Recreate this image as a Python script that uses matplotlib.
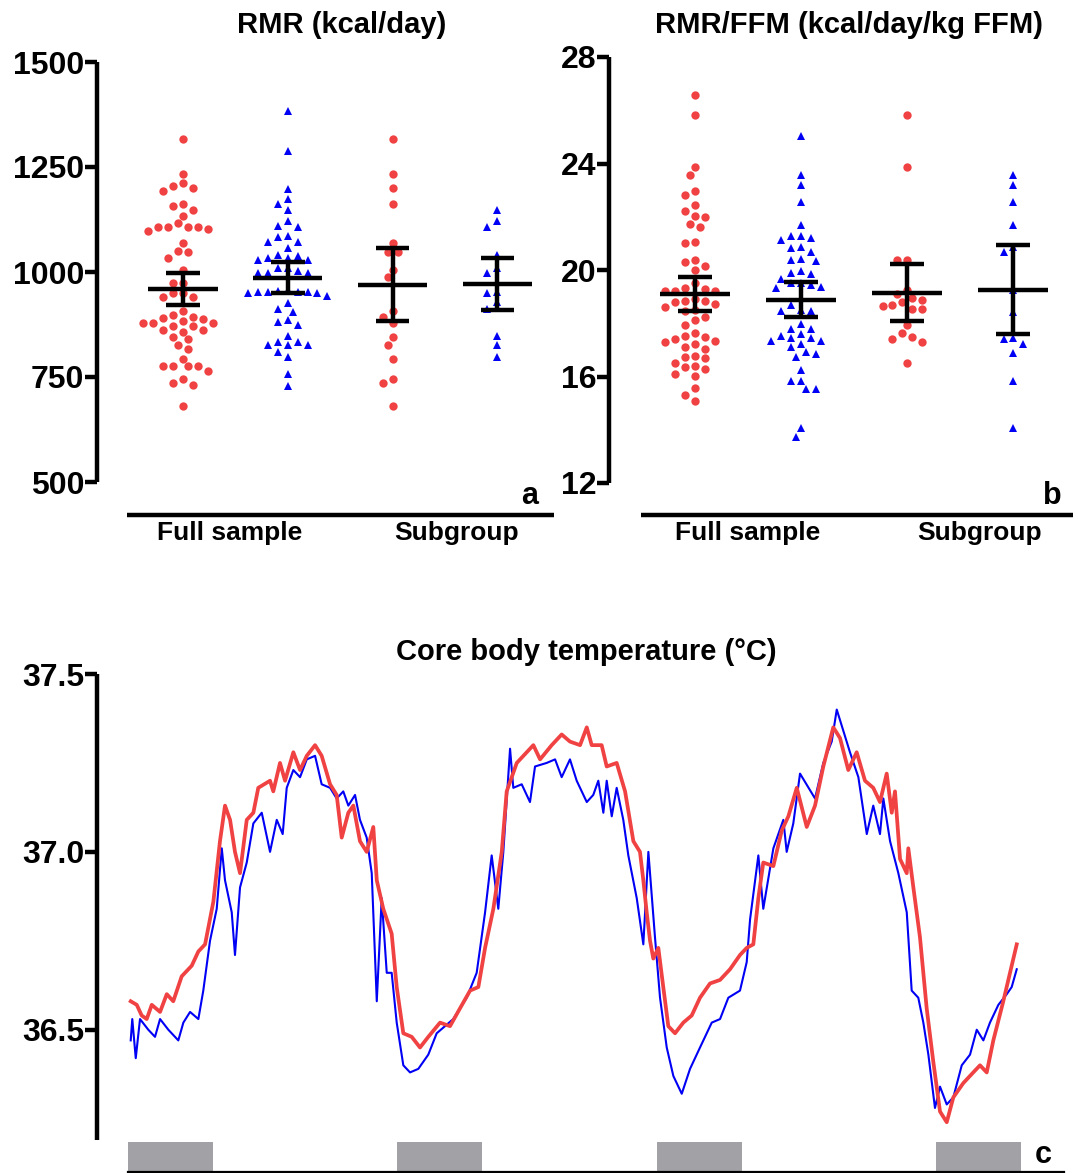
import numpy as np
import matplotlib
matplotlib.use("Agg")
import matplotlib.pyplot as plt
from matplotlib.lines import Line2D

plt.rcParams['font.family'] = ['Liberation Sans', 'DejaVu Sans']
plt.rcParams['font.weight'] = 'bold'

# ---------------- data ----------------
group_labels = ["Full sample", "Subgroup"]
panel_titles = ["RMR (kcal/day)", "RMR/FFM (kcal/day/kg FFM)", "Core body temperature (\u00b0C)"]

rmr_full_red = [1317, 1234, 1205, 1200, 1212, 1192, 1163, 1158, 1148, 1134, 1108, 1106, 1102, 1097,
                1106, 1108, 1116, 1068, 1048, 1050, 1033, 1005, 973, 973, 951, 951, 941, 941, 906,
                897, 893, 889, 879, 879, 871, 871, 879, 883, 890, 862, 858, 862, 840, 846, 817, 825,
                794, 777, 775, 764, 775, 775, 735, 730, 745, 680]
rmr_full_blue = [1383, 1288, 1198, 1174, 1163, 1147, 1121, 1108, 1110, 1086, 1084, 1071, 1071, 1056,
                 1040, 1034, 1029, 1033, 1029, 1039, 1009, 998, 997, 998, 1002, 1010, 954, 952, 952,
                 949, 949, 952, 952, 957, 926, 944, 905, 912, 882, 886, 873, 848, 833, 825, 825, 825,
                 833, 798, 810, 756, 729]
rmr_sub_red = [1317, 1234, 1200, 1162, 1068, 1047, 1047, 1005, 987, 906, 894, 878, 846, 825, 794,
               745, 735, 680]
rmr_sub_blue = [1147, 1108, 1121, 1040, 998, 1010, 949, 952, 913, 928, 848, 825, 798]
rmr_mean = [960, 986, 970, 971]
rmr_lo = [921, 950, 884, 909]
rmr_hi = [998, 1023, 1056, 1033]
rmr_ticks = [500, 750, 1000, 1250, 1500]

ffm_full_red = [26.56, 25.84, 23.86, 23.55, 22.95, 22.80, 22.45, 22.22, 21.98, 22.02, 21.63, 21.73,
                21.06, 21.03, 20.37, 20.29, 20.15, 19.99, 19.52, 19.31, 19.23, 19.23, 19.20, 19.28,
                18.85, 18.78, 18.60, 18.72, 18.45, 18.51, 18.83, 18.90, 18.23, 18.13, 17.94, 17.53,
                17.42, 17.62, 17.30, 17.22, 17.32, 17.47, 17.10, 17.05, 16.73, 16.78, 16.68, 16.49,
                16.39, 16.34, 16.29, 16.11, 16.01, 15.57, 15.31, 15.09]
ffm_full_blue = [25.04, 23.55, 23.21, 22.54, 21.69, 21.26, 21.14, 21.22, 21.29, 20.81, 20.88, 20.67,
                 20.39, 20.34, 20.42, 19.96, 19.90, 19.65, 19.84, 19.52, 19.43, 19.33, 19.37, 19.50,
                 18.94, 18.70, 18.50, 18.45, 18.45, 17.98, 17.80, 17.80, 17.59, 17.44, 17.34, 17.22,
                 17.34, 17.44, 17.53, 17.10, 16.91, 16.84, 16.74, 16.24, 15.83, 15.82, 15.54, 15.54,
                 14.05, 13.72]
ffm_sub_red = [25.84, 23.86, 20.39, 20.37, 19.24, 19.08, 18.94, 18.86, 18.67, 18.52, 18.52, 18.65,
               18.78, 17.94, 17.62, 17.42, 17.30, 17.47, 16.49]
ffm_sub_blue = [23.55, 23.21, 22.54, 21.69, 20.69, 20.85, 19.25, 18.42, 17.46, 17.41, 17.22, 16.87,
                15.83, 14.05]
ffm_mean = [19.09, 18.88, 19.14, 19.25]
ffm_lo = [18.46, 18.22, 18.07, 17.59]
ffm_hi = [19.72, 19.55, 20.23, 20.95]
ffm_ticks = [12, 16, 20, 24, 28]

# core body temperature (hours, degC)
temp_red_t = [0.24, 0.78, 1.22, 1.67, 2.12, 2.86, 3.46, 4.04, 4.79, 5.69, 6.28, 6.88, 7.62, 8.21,
              8.66, 9.11, 9.55, 10.0, 10.60, 11.19, 11.63, 12.68, 12.97, 13.57, 14.02, 14.76, 15.36,
              15.96, 16.70, 17.29, 18.04, 18.63, 19.08, 19.67, 20.12, 20.71, 21.31, 21.90, 22.21,
              22.79, 23.54, 23.99, 24.58, 25.33, 26.07, 26.81, 27.86, 28.75, 29.64, 30.54, 31.28,
              31.88, 32.62, 33.37, 33.81, 34.71, 36.19, 36.79, 37.83, 38.72, 39.46, 40.36, 40.96,
              41.40, 42.29, 42.74, 43.63, 44.38, 45.12, 45.71, 46.01, 46.31, 46.61, 46.90, 47.35,
              47.79, 48.24, 48.84, 49.58, 50.33, 51.07, 51.96, 52.86, 53.75, 54.64, 55.24, 55.83,
              56.28, 56.72, 57.62, 58.37, 58.96, 59.71, 60.60, 61.34, 62.08, 62.97, 63.57, 64.31,
              65.06, 65.80, 66.54, 67.14, 67.74, 68.19, 68.48, 68.93, 69.53, 69.67, 70.12, 70.71,
              71.31, 71.90, 72.50, 73.10, 73.69, 74.58, 75.47, 76.07, 76.67, 77.26, 78.15, 78.90,
              79.35]
temp_red_v = [36.58, 36.57, 36.54, 36.53, 36.57, 36.55, 36.60, 36.58, 36.65, 36.68, 36.72, 36.74,
              36.86, 37.03, 37.13, 37.09, 37.00, 36.94, 37.09, 37.11, 37.18, 37.20, 37.17, 37.25,
              37.20, 37.28, 37.23, 37.27, 37.30, 37.27, 37.19, 37.16, 37.04, 37.11, 37.13, 37.03,
              37.00, 37.07, 36.92, 36.84, 36.77, 36.62, 36.49, 36.48, 36.45, 36.48, 36.52, 36.51,
              36.56, 36.61, 36.62, 36.73, 36.84, 37.00, 37.17, 37.25, 37.30, 37.26, 37.30, 37.33,
              37.31, 37.30, 37.35, 37.30, 37.30, 37.24, 37.25, 37.17, 37.03, 37.00, 36.92, 36.83,
              36.75, 36.70, 36.73, 36.62, 36.51, 36.49, 36.52, 36.54, 36.59, 36.63, 36.64, 36.67,
              36.71, 36.73, 36.74, 36.87, 36.97, 36.96, 37.06, 37.10, 37.18, 37.07, 37.13, 37.24,
              37.35, 37.32, 37.23, 37.28, 37.20, 37.18, 37.14, 37.22, 37.11, 37.17, 36.98, 36.94,
              37.01, 36.90, 36.76, 36.56, 36.41, 36.27, 36.24, 36.31, 36.35, 36.38, 36.40, 36.38,
              36.47, 36.58, 36.68, 36.74]
temp_blue_t = [0.24, 0.38, 0.69, 1.07, 1.81, 2.41, 2.86, 3.60, 4.49, 4.94, 5.54, 6.28, 6.72, 7.32,
               7.92, 8.37, 8.66, 9.26, 9.55, 10.0, 10.60, 11.19, 11.94, 12.68, 13.28, 13.81, 14.17,
               14.76, 15.36, 15.96, 16.70, 17.29, 18.04, 18.63, 19.22, 19.67, 20.27, 20.71, 21.31,
               21.76, 22.21, 22.65, 23.10, 23.54, 23.99, 24.58, 25.18, 25.92, 26.81, 27.56, 29.04,
               30.24, 31.13, 31.88, 32.47, 33.06, 33.51, 34.11, 34.40, 35.15, 35.89, 36.34, 37.38,
               38.13, 38.72, 39.46, 40.06, 40.96, 41.54, 41.99, 42.44, 42.74, 43.19, 43.63, 44.22,
               44.67, 45.42, 46.01, 46.46, 47.05, 47.50, 48.10, 48.69, 49.44, 50.18, 51.07, 52.12,
               52.86, 53.60, 54.64, 55.24, 55.54, 56.28, 56.72, 57.62, 58.51, 58.81, 59.40, 60.0,
               61.34, 62.08, 62.83, 63.28, 63.87, 64.46, 65.21, 65.96, 66.54, 67.14, 67.44, 68.04,
               68.78, 69.53, 69.97, 70.56, 71.01, 71.46, 72.05, 72.50, 73.10, 73.69, 74.44, 75.18,
               75.78, 76.37, 76.96, 77.71, 78.46, 78.90, 79.35]
temp_blue_v = [36.47, 36.53, 36.42, 36.53, 36.50, 36.48, 36.53, 36.50, 36.47, 36.52, 36.55, 36.53,
               36.61, 36.75, 36.84, 37.01, 36.92, 36.83, 36.71, 36.90, 36.97, 37.08, 37.11, 37.00,
               37.09, 37.05, 37.18, 37.23, 37.21, 37.26, 37.27, 37.19, 37.18, 37.15, 37.17, 37.13,
               37.16, 37.09, 37.04, 36.94, 36.58, 36.87, 36.66, 36.66, 36.52, 36.40, 36.38, 36.39,
               36.43, 36.49, 36.53, 36.59, 36.66, 36.83, 36.99, 36.84, 37.00, 37.29, 37.18, 37.19,
               37.14, 37.24, 37.25, 37.26, 37.21, 37.26, 37.20, 37.14, 37.16, 37.20, 37.11, 37.20,
               37.10, 37.18, 37.09, 36.99, 36.87, 36.74, 37.00, 36.76, 36.59, 36.45, 36.37, 36.32,
               36.39, 36.45, 36.52, 36.53, 36.59, 36.61, 36.69, 36.81, 36.99, 36.84, 37.01, 37.09,
               37.00, 37.08, 37.22, 37.15, 37.25, 37.31, 37.40, 37.34, 37.28, 37.21, 37.05, 37.13,
               37.05, 37.15, 37.03, 36.94, 36.83, 36.61, 36.59, 36.52, 36.43, 36.28, 36.34, 36.29,
               36.31, 36.40, 36.43, 36.50, 36.47, 36.52, 36.57, 36.60, 36.62, 36.67]
temp_ticks = [36.5, 37.0, 37.5]
night_start = [0.0, 24.0, 47.2, 72.1]
night_len = 7.6

# ---------------- styling ----------------
RED = "#F04242"
BLUE = "#0000F5"
GRAY = "#A2A2A6"
W, H = 1078, 1173


def rect(l, t, r, b):
    return [l / W, 1 - b / H, (r - l) / W, (b - t) / H]


fig = plt.figure(figsize=(W / 100, H / 100), dpi=100)


def style_left(ax, ticks, labels, fs=23):
    for s in ("top", "right", "bottom"):
        ax.spines[s].set_visible(False)
    ax.spines["left"].set_linewidth(3.2)
    ax.spines["left"].set_capstyle("butt")
    ax.set_yticks(ticks)
    ax.set_yticklabels(labels)
    ax.set_xticks([])
    ax.tick_params(axis="y", length=9, width=3.2, labelsize=fs, pad=0)
    for t in ax.get_yticklabels():
        t.set_fontweight("bold")


def swarm(ax, xc, vals, diam=9.0):
    vals = np.asarray(vals, float)
    pts = ax.transData.transform(np.column_stack([np.full(len(vals), xc), vals]))
    placed = []
    out = np.zeros_like(pts)
    step = diam * 0.55
    cands = [0.0]
    for j in range(1, 30):
        cands += [-j * step, j * step]
    order = np.argsort(-vals)
    for i in order:
        px, py = pts[i]
        for off in cands:
            ok = True
            for qx, qy in placed:
                if (px + off - qx) ** 2 + (py - qy) ** 2 < diam ** 2:
                    ok = False
                    break
            if ok:
                break
        placed.append((px + off, py))
        out[i] = (px + off, py)
    return ax.transData.inverted().transform(out)


def dot_panel(ax, series, means, lo, hi):
    xs = [1, 2, 3, 4]
    for x, (vals, col, mk, ms) in zip(xs, series):
        p = swarm(ax, x, vals)
        ax.plot(p[:, 0], p[:, 1], linestyle="none", marker=mk, color=col, ms=ms, mew=0, zorder=2)
    for x, m, l, h in zip(xs, means, lo, hi):
        kw = dict(color="black", lw=3.2, solid_capstyle="butt", zorder=4)
        ax.plot([x - 0.33, x + 0.33], [m, m], **kw)
        ax.plot([x - 0.16, x + 0.16], [l, l], **kw)
        ax.plot([x - 0.16, x + 0.16], [h, h], **kw)
        ax.plot([x, x], [l, h], **kw)


# Panel a
axa = fig.add_axes(rect(97, 62, 555, 482))
axa.set_xlim(0.18, 4.55)
axa.set_ylim(500, 1500)
style_left(axa, rmr_ticks, [str(v) for v in rmr_ticks])
dot_panel(axa, [(rmr_full_red, RED, "o", 6.0), (rmr_full_blue, BLUE, "^", 6.2),
                (rmr_sub_red, RED, "o", 6.0), (rmr_sub_blue, BLUE, "^", 6.2)],
          rmr_mean, rmr_lo, rmr_hi)

# Panel b
axb = fig.add_axes(rect(609, 57, 1075, 483))
axb.set_xlim(0.19, 4.58)
axb.set_ylim(12, 28)
style_left(axb, ffm_ticks, [str(v) for v in ffm_ticks])
dot_panel(axb, [(ffm_full_red, RED, "o", 6.0), (ffm_full_blue, BLUE, "^", 6.2),
                (ffm_sub_red, RED, "o", 6.0), (ffm_sub_blue, BLUE, "^", 6.2)],
          ffm_mean, ffm_lo, ffm_hi)

# Panel c
axc = fig.add_axes(rect(97, 674, 1064, 1140))
axc.set_xlim(-2.77, 83.57)
axc.set_ylim(36.19, 37.5)
style_left(axc, temp_ticks, ["%.1f" % v for v in temp_ticks])
axc.plot(temp_blue_t, temp_blue_v, color=BLUE, lw=1.5, zorder=2)
axc.plot(temp_red_t, temp_red_v, color=RED, lw=2.7, zorder=3)

# Night bars
axn = fig.add_axes(rect(128, 1142, 1064, 1172))
axn.set_xlim(0, 83.57)
axn.set_ylim(0, 1)
axn.bar(night_start, 1, width=night_len, align="edge", color=GRAY, edgecolor="none")
for s in ("top", "right", "left"):
    axn.spines[s].set_visible(False)
axn.spines["bottom"].set_linewidth(1.6)
axn.set_xticks([])
axn.set_yticks([])

# Titles
fs_title = 21
fig.text(342 / W, 1 - 25 / H, panel_titles[0], ha="center", va="center", fontsize=fs_title, weight="bold")
fig.text(849 / W, 1 - 25 / H, panel_titles[1], ha="center", va="center", fontsize=fs_title, weight="bold")
fig.text(586 / W, 1 - 652 / H, panel_titles[2], ha="center", va="center", fontsize=fs_title, weight="bold")

# Group lines and labels
for x0, x1, c1, c2, letter, lx in [(127, 554, 230, 457, "a", 530), (641, 1073, 748, 980, "b", 1052)]:
    fig.add_artist(Line2D([x0 / W, x1 / W], [1 - 515 / H, 1 - 515 / H], color="black", lw=3.2,
                          solid_capstyle="butt"))
    fig.text(c1 / W, 1 - 533 / H, group_labels[0], ha="center", va="center", fontsize=19, weight="bold")
    fig.text(c2 / W, 1 - 533 / H, group_labels[1], ha="center", va="center", fontsize=19, weight="bold")
    fig.text(lx / W, 1 - 496 / H, letter, ha="center", va="center", fontsize=22, weight="bold")
fig.text(1043 / W, 1 - 1155 / H, "c", ha="center", va="center", fontsize=22, weight="bold")

fig.savefig("out.png", dpi=100)
